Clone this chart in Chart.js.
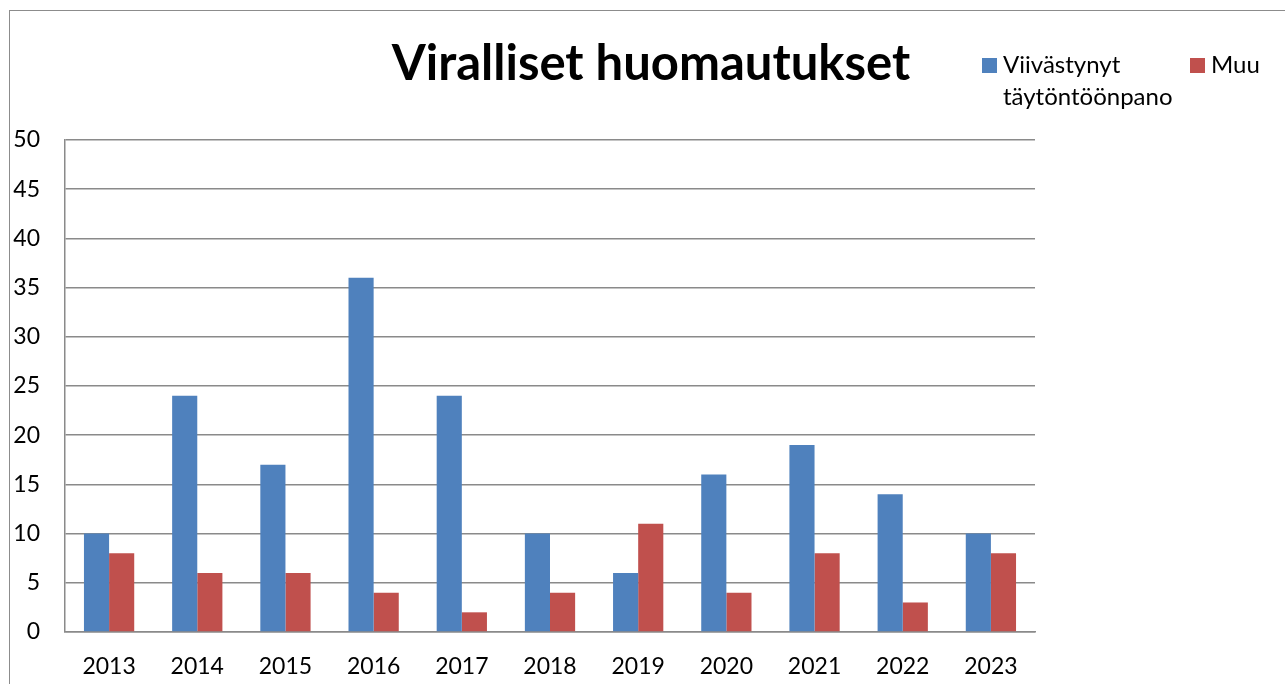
<!DOCTYPE html>
<html>
<head>
<meta charset="utf-8">
<script src="https://cdn.jsdelivr.net/npm/chart.js@4"></script>
<style>
  html, body { margin: 0; padding: 0; background: #fff; }
  #wrap { position: relative; width: 1285px; height: 684px; overflow: hidden; }
  #frame { position: absolute; left: 9px; top: 10px; width: 1400px; height: 800px; border: 1px solid #8c8c8c; }
  canvas { position: absolute; left: 0; top: 0; }
</style>
</head>
<body>
<div id="wrap">
  <div id="frame"></div>
  <canvas id="chart" width="1285" height="684"></canvas>
</div>
<script>
const years = ['2013', '2014', '2015', '2016', '2017', '2018', '2019', '2020', '2021', '2022', '2023'];
const delayed = [10, 24, 17, 36, 24, 10, 6, 16, 19, 14, 10];
const other = [8, 6, 6, 4, 2, 4, 11, 4, 8, 3, 8];
const seriesNames = ['Viivästynyt täytöntöönpano', 'Muu'];
const legendLines = [['Viivästynyt', 'täytöntöönpano'], ['Muu']];
const chartTitle = 'Viralliset huomautukset';

const colors = ['#4F81BD', '#C0504D'];
const gridColor = '#8a8a8a';
const font = 'Lato, "Open Sans", sans-serif';

// title and wrapped legend drawn by hand, like the Excel original
const headerPlugin = {
  id: 'header',
  afterDraw(chart) {
    const ctx = chart.ctx;
    ctx.save();
    ctx.fillStyle = '#000';
    ctx.textBaseline = 'alphabetic';
    ctx.textAlign = 'center';
    ctx.font = 'bold 49px ' + font;
    ctx.fillText(chartTitle, 651, 80);

    ctx.textBaseline = 'middle';
    ctx.textAlign = 'left';
    ctx.font = '24px ' + font;
    const xs = [982, 1190];
    chart.data.datasets.forEach((ds, i) => {
      ctx.fillStyle = ds.backgroundColor;
      ctx.fillRect(xs[i], 58, 15, 15);
      ctx.fillStyle = '#000';
      legendLines[i].forEach((line, j) => {
        ctx.fillText(line, xs[i] + 21, 65 + j * 32);
      });
    });
    ctx.restore();
  }
};

new Chart(document.getElementById('chart'), {
  type: 'bar',
  data: {
    labels: years,
    datasets: [
      { label: seriesNames[0], data: delayed, backgroundColor: colors[0] },
      { label: seriesNames[1], data: other, backgroundColor: colors[1] }
    ]
  },
  options: {
    responsive: false,
    animation: false,
    events: [],
    datasets: {
      bar: { categoryPercentage: 0.57, barPercentage: 1.0 }
    },
    layout: { padding: { top: 140, right: 250, bottom: 0, left: 10 } },
    plugins: {
      legend: { display: false },
      title: { display: false },
      tooltip: { enabled: false }
    },
    scales: {
      x: {
        afterFit(scale) { scale.height = 52; },
        grid: { display: false, drawTicks: false },
        border: { color: gridColor, width: 1.5 },
        ticks: { color: '#000', font: { family: font, size: 23 }, padding: 21 }
      },
      y: {
        min: 0,
        max: 50,
        afterFit(scale) { scale.width = 55; },
        grid: { color: gridColor, lineWidth: 1.5, drawTicks: false },
        border: { color: gridColor, width: 1.5 },
        ticks: { stepSize: 5, color: '#000', font: { family: font, size: 23 }, padding: 25 }
      }
    }
  },
  plugins: [headerPlugin]
});
</script>
</body>
</html>
